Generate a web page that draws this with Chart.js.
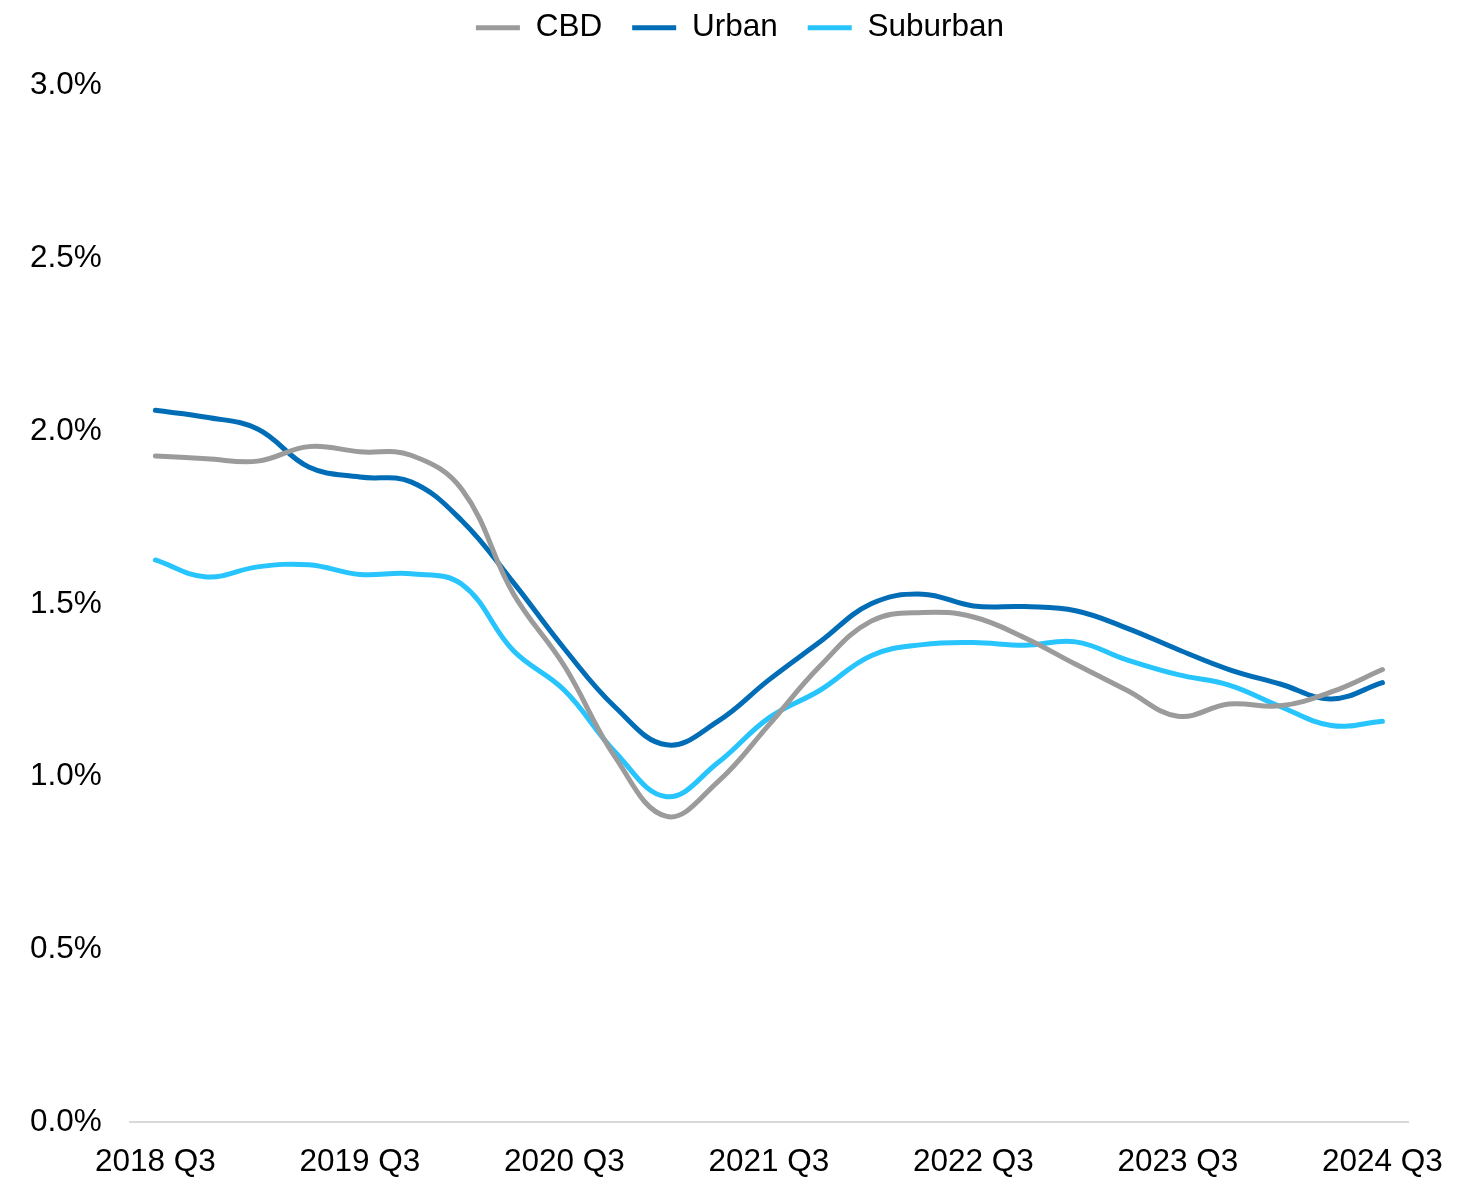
<!DOCTYPE html>
<html>
<head>
<meta charset="utf-8">
<title>CBD / Urban / Suburban</title>
<script src="https://cdn.jsdelivr.net/npm/chart.js@4.4.1/dist/chart.umd.min.js"></script>
<style>
    html, body { margin: 0; padding: 0; background: #ffffff; }
    #wrap { width: 1480px; height: 1177px; position: relative; }
</style>
</head>
<body>
<div id="wrap"><canvas id="lineChart"></canvas></div>
<script>
"use strict";

// quarterly labels, only every 4th one is printed on the axis
const quarters = [
    "2018 Q3", "2018 Q4", "2019 Q1", "2019 Q2",
    "2019 Q3", "2019 Q4", "2020 Q1", "2020 Q2",
    "2020 Q3", "2020 Q4", "2021 Q1", "2021 Q2",
    "2021 Q3", "2021 Q4", "2022 Q1", "2022 Q2",
    "2022 Q3", "2022 Q4", "2023 Q1", "2023 Q2",
    "2023 Q3", "2023 Q4", "2024 Q1", "2024 Q2",
    "2024 Q3"
];

const cbd = [1.928, 1.920, 1.913, 1.955, 1.940, 1.930, 1.830, 1.530, 1.320, 1.055, 0.885, 0.985, 1.150,
             1.320, 1.450, 1.475, 1.462, 1.402, 1.325, 1.250, 1.175, 1.210, 1.205, 1.245, 1.310];
const urban = [2.060, 2.040, 2.006, 1.896, 1.867, 1.853, 1.740, 1.562, 1.370, 1.200, 1.092, 1.160, 1.280,
               1.390, 1.500, 1.528, 1.494, 1.492, 1.480, 1.430, 1.368, 1.310, 1.268, 1.225, 1.272];
const suburban = [1.627, 1.578, 1.607, 1.613, 1.585, 1.587, 1.556, 1.365, 1.250, 1.070, 0.942, 1.040, 1.170,
                  1.250, 1.350, 1.382, 1.388, 1.380, 1.390, 1.338, 1.295, 1.265, 1.203, 1.148, 1.160];

const yTicks = [0, 0.5, 1.0, 1.5, 2.0, 2.5, 3.0];

const FONT = "'Liberation Sans', Arial, sans-serif";
const FONT_SIZE = 31.5;

function series(label, data, color) {
    return {
        label: label,
        data: data,
        borderColor: color,
        backgroundColor: color,
        borderWidth: 5,
        borderCapStyle: "round",
        pointRadius: 0,
        pointHoverRadius: 0,
        tension: 0.4,
        fill: false
    };
}

// legend: extra room below it, and centred on the page rather than the padded box
const legendTweaks = {
    id: "legendTweaks",
    beforeInit(chart) {
        const fit = chart.legend.fit;
        chart.legend.fit = function () {
            fit.call(this);
            this.height += 32;
        };
    },
    afterLayout(chart) {
        const legend = chart.legend;
        const shift = chart.width / 2 - (legend.left + legend.right) / 2;
        legend.left += shift;
        legend.right += shift;
    }
};

document.addEventListener("DOMContentLoaded", () => {
    const ctx = document.getElementById("lineChart").getContext("2d");

    new Chart(ctx, {
        type: "line",
        data: {
            labels: quarters,
            datasets: [
                series("CBD", cbd, "#9b9b9b"),
                series("Urban", urban, "#006db6"),
                series("Suburban", suburban, "#27c4fd")
            ]
        },
        plugins: [legendTweaks],
        options: {
            responsive: true,
            maintainAspectRatio: false,
            animation: false,
            layout: {
                padding: { left: 2, right: 72, top: -18, bottom: -25 }
            },
            scales: {
                x: {
                    type: "category",
                    offset: true,
                    grid: { display: false, drawTicks: false },
                    border: { display: true, color: "#d9d9d9", width: 2 },
                    ticks: {
                        autoSkip: false,
                        maxRotation: 0,
                        padding: 21,
                        color: "#000000",
                        font: { family: FONT, size: FONT_SIZE },
                        callback: (value, index) => index % 4 === 0 ? quarters[index] : ""
                    }
                },
                y: {
                    min: yTicks[0],
                    max: yTicks[yTicks.length - 1],
                    afterBuildTicks: axis => {
                        axis.ticks = yTicks.map(v => ({ value: v }));
                    },
                    grid: { display: false, drawTicks: false },
                    border: { display: false },
                    ticks: {
                        padding: 28,
                        color: "#000000",
                        font: { family: FONT, size: FONT_SIZE },
                        callback: value => value.toFixed(1) + "%"
                    }
                }
            },
            plugins: {
                legend: {
                    position: "top",
                    align: "center",
                    labels: {
                        usePointStyle: true,
                        pointStyle: "line",
                        pointStyleWidth: 44,
                        boxHeight: 31,
                        padding: 30,
                        color: "#000000",
                        font: { family: FONT, size: FONT_SIZE }
                    }
                },
                tooltip: { enabled: false }
            }
        }
    });
});
</script>
</body>
</html>
